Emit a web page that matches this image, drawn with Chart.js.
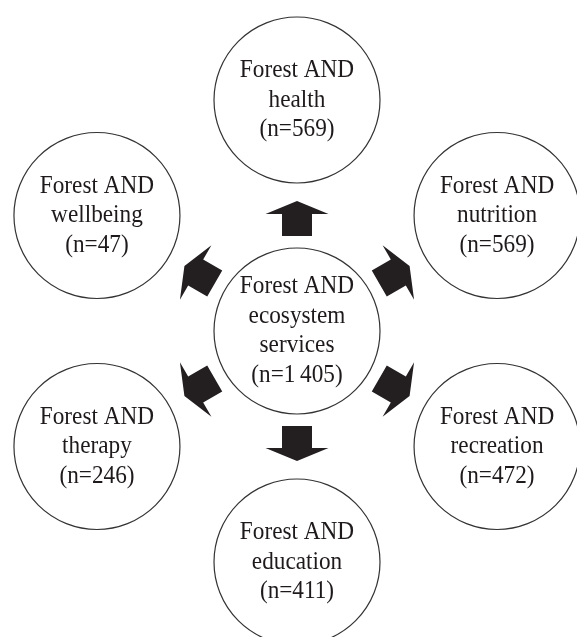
<!DOCTYPE html>
<html>
<head>
<meta charset="utf-8">
<script src="https://cdn.jsdelivr.net/npm/chart.js@4.4.1/dist/chart.umd.min.js"></script>
<style>
  html, body { margin: 0; padding: 0; background: #ffffff; }
  #wrap { width: 577px; height: 637px; position: relative; }
</style>
</head>
<body>
<div id="wrap"><canvas id="c" width="577" height="637"></canvas></div>
<script>
// ---- data ----
const prefix = 'Forest AND';
const hubTopic = ['ecosystem', 'services'];
const hubCount = 1405;
const topics = ['health', 'nutrition', 'recreation', 'education', 'therapy', 'wellbeing'];
const counts = [569, 569, 472, 411, 246, 47];

// ---- layout (not data) ----
const hub = { x: 297, y: 331 };
const spoke = 231;
const angles = [90, 30, -30, -90, -150, 150];
const radius = 83;

function fmt(n) {
  const s = String(n);
  return s.length > 3 ? s.slice(0, s.length - 3) + '\u2009' + s.slice(s.length - 3) : s;
}

const outerPts = topics.map((t, i) => {
  const a = angles[i] * Math.PI / 180;
  return { x: hub.x + spoke * Math.cos(a), y: hub.y - spoke * Math.sin(a), lines: [prefix, t, '(n=' + fmt(counts[i]) + ')'] };
});
const hubPt = { x: hub.x, y: hub.y, lines: [prefix, hubTopic[0], hubTopic[1], '(n=' + fmt(hubCount) + ')'] };

const textPlugin = {
  id: 'labels',
  afterDatasetsDraw(chart) {
    const ctx = chart.ctx;
    const xs = chart.scales.x, ys = chart.scales.y;
    // arrows
    ctx.save();
    ctx.fillStyle = '#231f20';
    const shape = [[95, -15], [117, -15], [117, -31.5], [130, 0], [117, 31.5], [117, 15], [95, 15]];
    angles.forEach(deg => {
      const a = deg * Math.PI / 180;
      const ux = Math.cos(a), uy = -Math.sin(a);
      const vx = -uy, vy = ux;
      ctx.beginPath();
      shape.forEach(([d, w], k) => {
        const px = xs.getPixelForValue(hub.x + d * ux + w * vx);
        const py = ys.getPixelForValue(hub.y + d * uy + w * vy);
        if (k === 0) ctx.moveTo(px, py); else ctx.lineTo(px, py);
      });
      ctx.closePath();
      ctx.fill();
    });
    ctx.restore();
    // texts
    ctx.save();
    ctx.fillStyle = '#1e1a1b';
    ctx.textAlign = 'center';
    ctx.textBaseline = 'middle';
    ctx.font = '25px "Liberation Serif", "DejaVu Serif", serif';
    const lh = 29.5;
    chart.data.datasets[0].data.forEach(p => {
      const cx = xs.getPixelForValue(p.x), cy = ys.getPixelForValue(p.y);
      const n = p.lines.length;
      p.lines.forEach((ln, k) => {
        const yy = cy + (k - (n - 1) / 2) * lh;
        ctx.save();
        ctx.translate(cx, yy);
        ctx.scale(0.93, 1);
        ctx.fillText(ln, 0, 0);
        ctx.restore();
      });
    });
    ctx.restore();
  }
};

new Chart(document.getElementById('c'), {
  type: 'scatter',
  data: {
    datasets: [{
      data: [hubPt].concat(outerPts),
      pointRadius: radius,
      pointHoverRadius: radius,
      pointStyle: 'circle',
      backgroundColor: '#ffffff',
      borderColor: '#333333',
      borderWidth: 1.2,
      clip: false
    }]
  },
  options: {
    responsive: false,
    animation: false,
    events: [],
    layout: { padding: 0, autoPadding: false },
    plugins: { legend: { display: false }, tooltip: { enabled: false } },
    scales: {
      x: { type: 'linear', min: 0, max: 577, display: false },
      y: { type: 'linear', min: 0, max: 637, reverse: true, display: false }
    }
  },
  plugins: [textPlugin]
});
</script>
</body>
</html>
